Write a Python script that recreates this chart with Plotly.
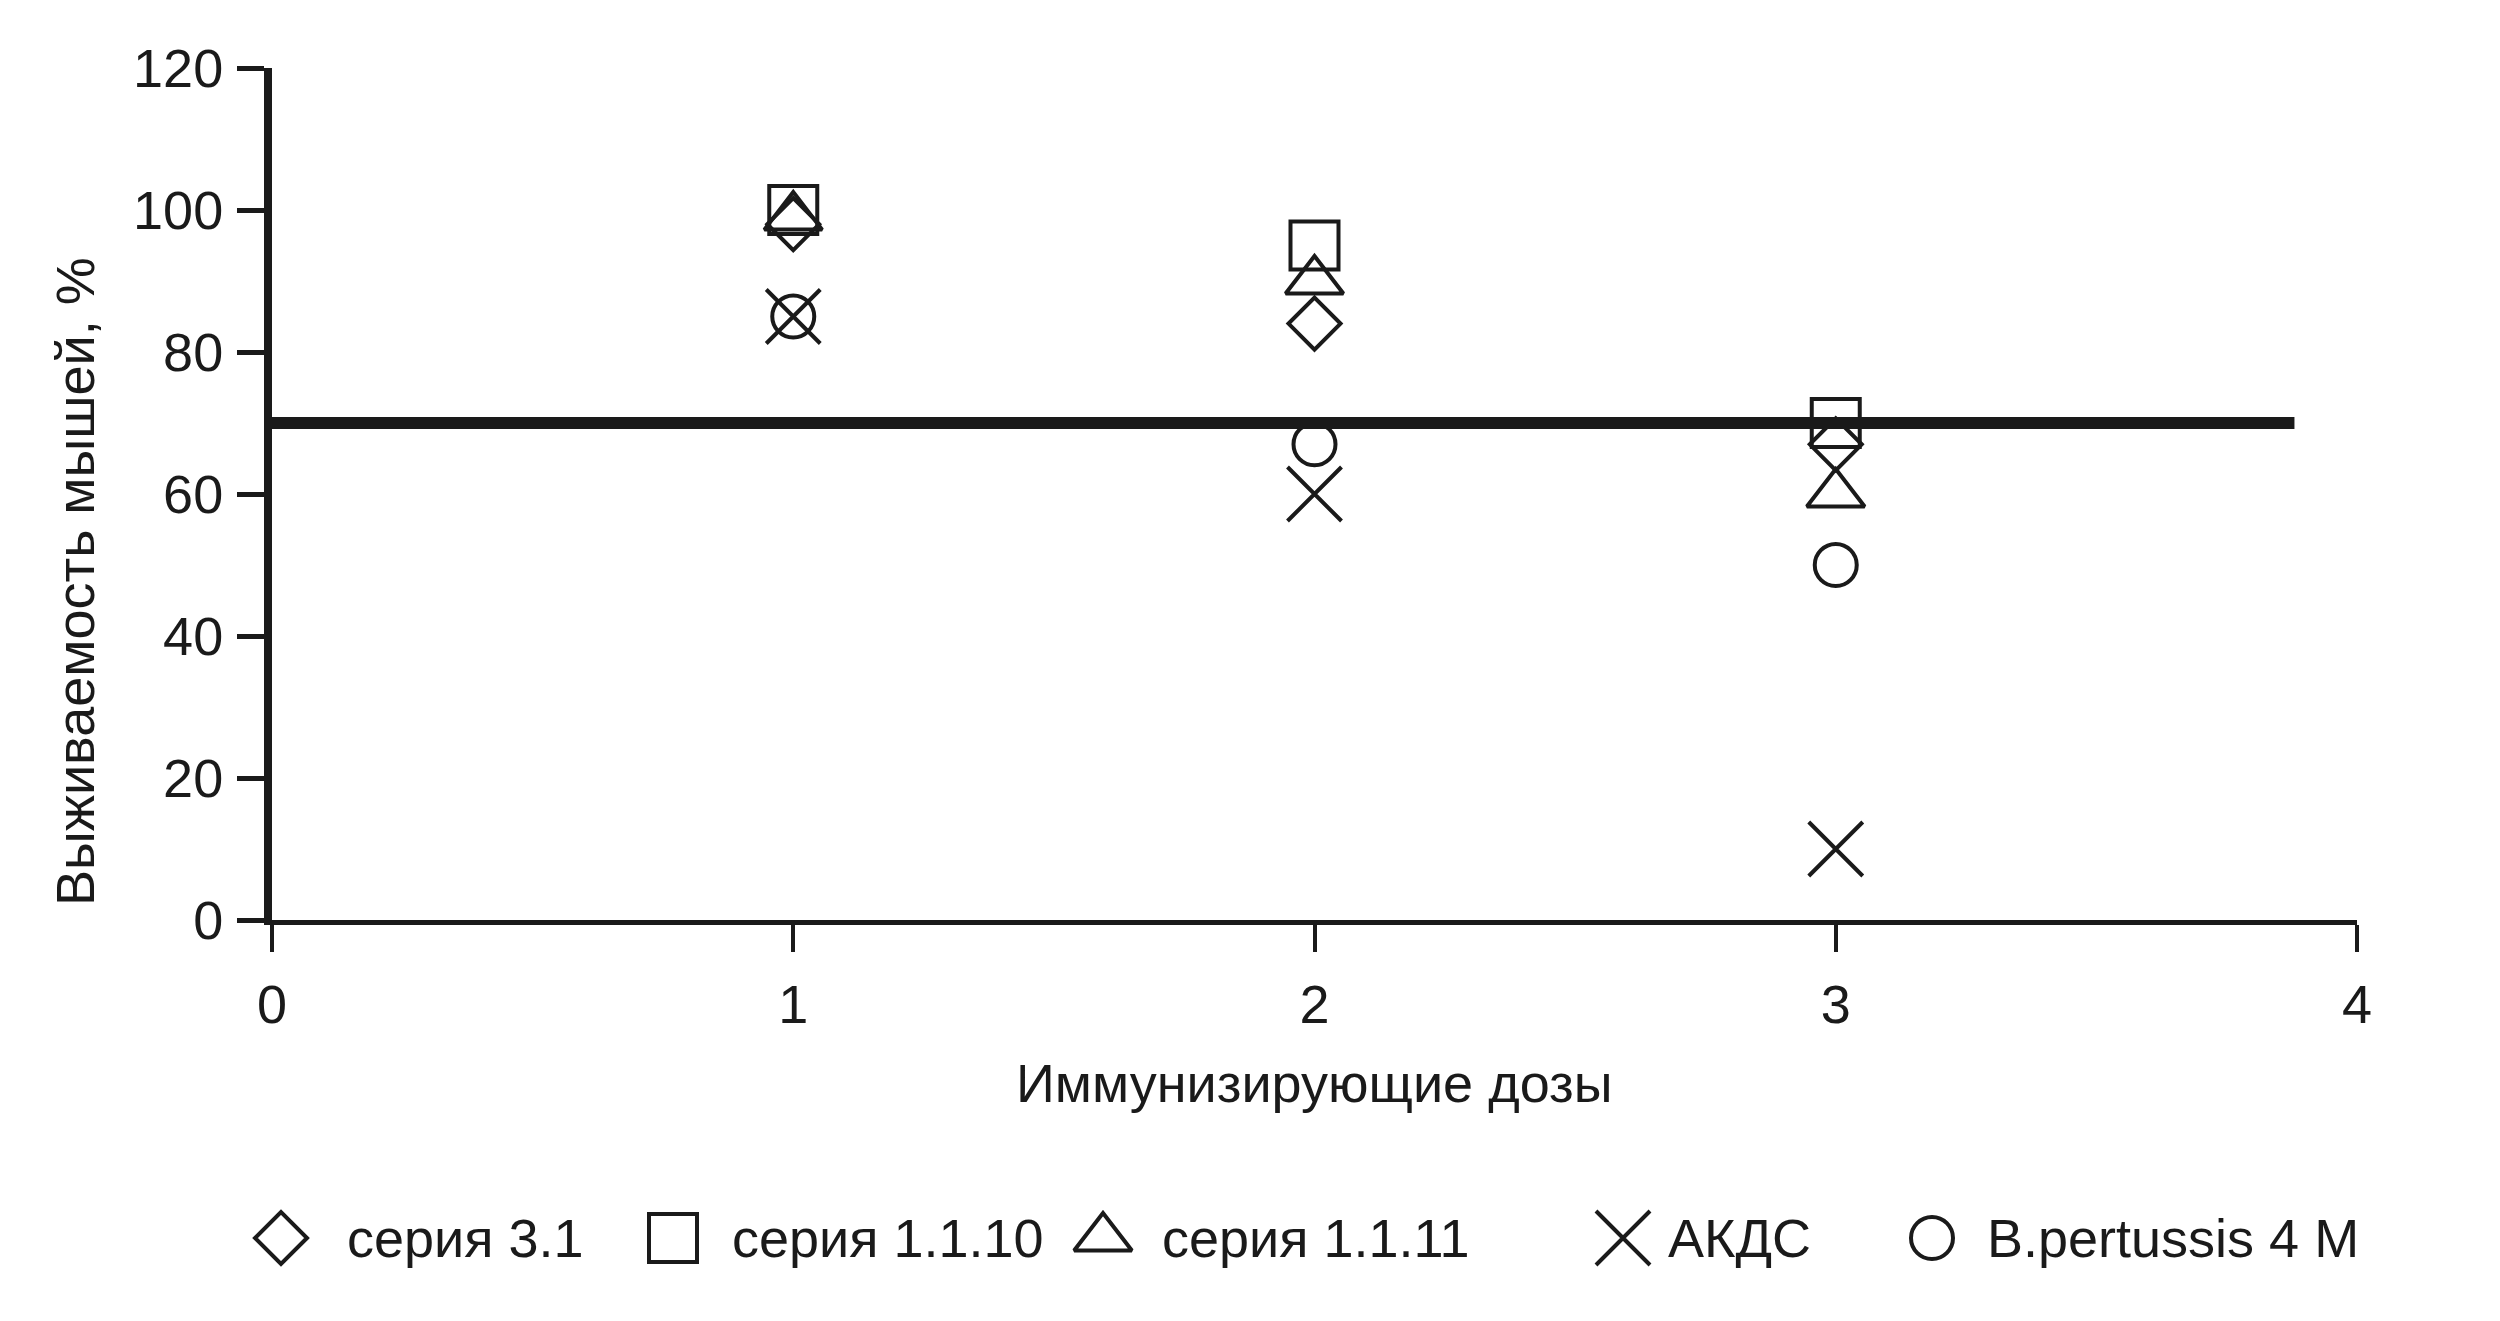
import plotly.graph_objects as go

# ---- data ----
doses = [1, 2, 3]
series_names = ["серия 3.1", "серия 1.1.10", "серия 1.1.11", "АКДС", "B.pertussis 4 M"]
seria_3_1 = [98, 84, 67]
seria_1_1_10 = [100, 95, 70]
seria_1_1_11 = [99, 90, 60]
akds = [85, 60, 10]
bpertussis_4m = [85, 67, 50]
threshold_x = [0, 3.88]
threshold_y = [70, 70]
x_ticks = [0, 1, 2, 3, 4]
y_ticks = [0, 20, 40, 60, 80, 100, 120]
x_title = "Иммунизирующие дозы"
y_title = "Выживаемость мышей, %"

series_values = [seria_3_1, seria_1_1_10, seria_1_1_11, akds, bpertussis_4m]

# ---- styles ----
W, H = 2500, 1321
OFF = 8  # default page body margin
INK = "#1a1a1a"
FONT = "Liberation Sans, Arial, sans-serif"
FS = 54
symbols = ["diamond-open", "square-open", "triangle-up-open", "x-thin-open", "circle-open"]
sizes = [40, 48, 50, 54, 42]

def px_x(p):
    return (p - OFF) / W

def px_y(p):
    return (H - (p - OFF)) / H

fig = go.Figure()

for name, vals, sym, sz in zip(series_names, series_values, symbols, sizes):
    fig.add_trace(go.Scatter(
        x=doses, y=vals, mode="markers", name=name, showlegend=False,
        marker=dict(symbol=sym, size=sz, color=INK, line=dict(color=INK, width=4)),
        cliponaxis=False, xaxis="x", yaxis="y",
    ))

fig.add_trace(go.Scatter(
    x=threshold_x, y=threshold_y, mode="lines", showlegend=False,
    line=dict(color=INK, width=12), xaxis="x", yaxis="y", cliponaxis=False,
))

# ---- custom legend (large symbols as in original) ----
legend_sym_x = [281, 673, 1103, 1623, 1932]
legend_txt_x = [345, 730, 1160, 1666, 1985]
legend_y = 1238
for name, sym, sz, sx in zip(series_names, symbols, sizes, legend_sym_x):
    fig.add_trace(go.Scatter(
        x=[sx - OFF], y=[0], mode="markers", showlegend=False, hoverinfo="skip",
        marker=dict(symbol=sym, size=sz, color=INK, line=dict(color=INK, width=4)),
        xaxis="x2", yaxis="y2", cliponaxis=False,
    ))

annotations = []
for name, tx in zip(series_names, legend_txt_x):
    annotations.append(dict(
        text=name, x=px_x(tx), y=px_y(legend_y), xref="paper", yref="paper",
        xanchor="left", yanchor="middle", showarrow=False,
        font=dict(family=FONT, size=FS, color=INK),
    ))
annotations.append(dict(
    text=x_title, x=px_x(1314), y=px_y(1083), xref="paper", yref="paper",
    xanchor="center", yanchor="middle", showarrow=False,
    font=dict(family=FONT, size=FS, color=INK),
))
annotations.append(dict(
    text=y_title, x=px_x(75), y=px_y(582), xref="paper", yref="paper",
    xanchor="center", yanchor="middle", showarrow=False, textangle=-90,
    font=dict(family=FONT, size=FS, color=INK),
))

axis_common = dict(
    showgrid=False, zeroline=False, showline=True, linecolor=INK,
    ticks="outside", ticklen=27, tickcolor=INK, automargin=False,
    tickfont=dict(family=FONT, size=FS, color=INK),
)

fig.update_layout(
    template="none",
    width=W, height=H,
    margin=dict(l=0, r=0, t=0, b=0, pad=0),
    paper_bgcolor="white", plot_bgcolor="white",
    showlegend=False,
    font=dict(family=FONT, color=INK),
    xaxis=dict(
        domain=[px_x(272), px_x(2357)], range=[0, 4],
        tickmode="array", tickvals=x_ticks, ticktext=[str(v) for v in x_ticks],
        linewidth=5, tickwidth=4, ticklabelstandoff=6, anchor="y",
        **axis_common,
    ),
    yaxis=dict(
        domain=[px_y(920), px_y(68)], range=[0, 120],
        tickmode="array", tickvals=y_ticks, ticktext=[str(v) for v in y_ticks],
        linewidth=8, tickwidth=5, ticklabelstandoff=3, anchor="x",
        **axis_common,
    ),
    xaxis2=dict(domain=[0, 1], range=[0, W], visible=False, anchor="y2", fixedrange=True, automargin=False),
    yaxis2=dict(domain=[px_y(1268), px_y(1208)], range=[-1, 1], visible=False, anchor="x2", fixedrange=True, automargin=False),
    annotations=annotations,
)

fig.write_html("out.html")
